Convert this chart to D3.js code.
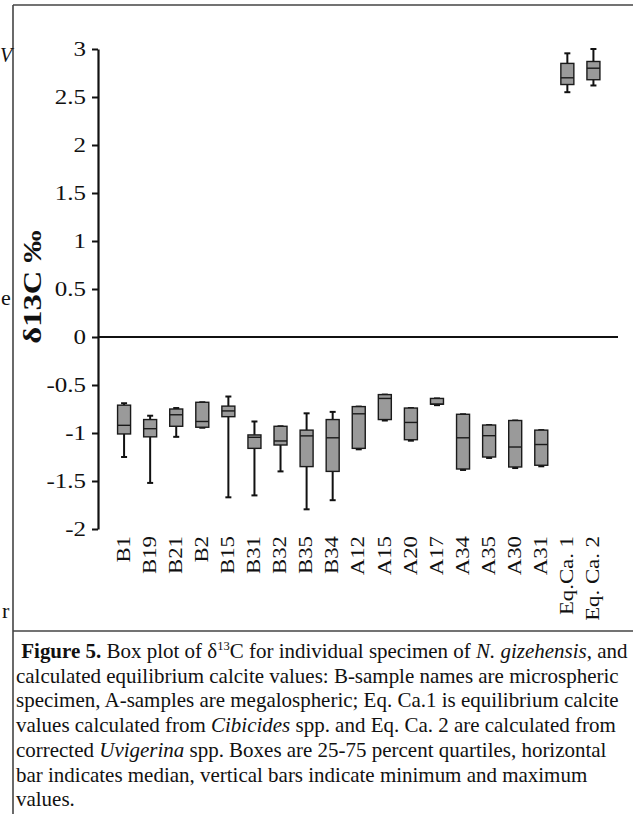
<!DOCTYPE html>
<html>
<head>
<meta charset="utf-8">
<script src="https://cdn.jsdelivr.net/npm/d3@7"></script>
<style>
  html, body { margin: 0; padding: 0; background: #fff; }
  svg { display: block; }
  svg text { font-family: "Liberation Serif", "Times New Roman", serif; fill: #111; }
</style>
</head>
<body>
<svg id="fig" width="633" height="814"></svg>
<script>
// δ13C per specimen: five-number summary per sample
const categories = ["B1", "B19", "B21", "B2", "B15", "B31", "B32", "B35", "B34",
  "A12", "A15", "A20", "A17", "A34", "A35", "A30", "A31", "Eq.Ca. 1", "Eq. Ca. 2"];
const minValues    = [-1.25, -1.52, -1.04, -0.945, -1.67, -1.65, -1.40, -1.795, -1.70,
  -1.17, -0.87, -1.08, -0.71, -1.385, -1.26, -1.365, -1.347, 2.55, 2.62];
const q1Values     = [-1.01, -1.04, -0.93, -0.94, -0.83, -1.16, -1.125, -1.35, -1.40,
  -1.16, -0.86, -1.07, -0.70, -1.375, -1.25, -1.354, -1.336, 2.63, 2.68];
const medianValues = [-0.92, -0.955, -0.81, -0.88, -0.77, -1.045, -1.083, -1.03, -1.05,
  -0.80, -0.64, -0.89, -0.70, -1.05, -1.028, -1.146, -1.12, 2.70, 2.80];
const q3Values     = [-0.71, -0.86, -0.75, -0.68, -0.72, -1.02, -0.93, -0.97, -0.86,
  -0.725, -0.60, -0.74, -0.64, -0.805, -0.917, -0.87, -0.97, 2.85, 2.87];
const maxValues    = [-0.69, -0.82, -0.74, -0.68, -0.62, -0.88, -0.93, -0.795, -0.78,
  -0.725, -0.60, -0.74, -0.64, -0.805, -0.917, -0.87, -0.97, 2.955, 3.0];

const yTickValues = [-2, -1.5, -1, -0.5, 0, 0.5, 1, 1.5, 2, 2.5, 3];
const yTickLabels = ["-2", "-1.5", "-1", "-0.5", "0", "0.5", "1", "1.5", "2", "2.5", "3"];
const yTitle = "δ13C ‰";

const rows = categories.map((c, i) => ({
  name: c, min: minValues[i], q1: q1Values[i], med: medianValues[i], q3: q3Values[i], max: maxValues[i]
}));

const SERIF = '"Liberation Serif", "Times New Roman", serif';
const svg = d3.select("#fig");

// page frame: top rule, left rule, caption separator
const frame = svg.append("g").attr("stroke", "#444").attr("stroke-width", 1.6);
frame.append("line").attr("x1", 13).attr("x2", 633).attr("y1", 5).attr("y2", 5);
frame.append("line").attr("x1", 13).attr("x2", 13).attr("y1", 5).attr("y2", 814);
frame.append("line").attr("x1", 13).attr("x2", 633).attr("y1", 631).attr("y2", 631);

// fragments of the neighbouring text column
svg.append("text").attr("x", 0).attr("y", 62).attr("font-size", 20).style("font-style", "italic").text("V");
svg.append("text").attr("x", 1).attr("y", 305).attr("font-size", 22).text("e");
svg.append("text").attr("x", 2).attr("y", 618).attr("font-size", 22).text("r");

const axisX = 98;
const y = d3.scaleLinear().domain([-2, 3]).range([529, 49]);
const x = d3.scalePoint().domain(categories).range([axisX, 619.5]).padding(1);

const plot = svg.append("g");

// y axis
const yAxis = d3.axisLeft(y)
  .tickValues(yTickValues)
  .tickFormat((d, i) => yTickLabels[i])
  .tickSize(6)
  .tickSizeOuter(0);
const gy = plot.append("g").attr("transform", `translate(${axisX},0)`).call(yAxis);
gy.attr("font-family", null).attr("font-size", null);
gy.select(".domain").attr("stroke", "#111").attr("stroke-width", 2.2);
gy.selectAll(".tick line").attr("stroke", "#111").attr("stroke-width", 2);
gy.selectAll(".tick text")
  .attr("x", 0).attr("dy", "0.34em")
  .attr("transform", "translate(-12,0) scale(1.25,1)")
  .style("font-family", SERIF)
  .style("font-size", "20px")
  .style("fill", "#111");

// zero line
plot.append("line")
  .attr("x1", axisX).attr("x2", 618)
  .attr("y1", y(0)).attr("y2", y(0))
  .attr("stroke", "#111").attr("stroke-width", 2);

// y title
svg.append("text")
  .attr("transform", `translate(32,287) rotate(-90) scale(1.25,1)`)
  .attr("text-anchor", "middle").attr("dy", "0.35em")
  .attr("font-size", 26).attr("font-weight", "bold")
  .text(yTitle);

// category labels
plot.append("g").selectAll("text").data(categories).join("text")
  .attr("transform", d => `translate(${x(d)},536) rotate(-90) scale(1.2,1)`)
  .attr("text-anchor", "end").attr("dy", "0.3em")
  .attr("font-size", 19)
  .text(d => d);

// boxes
const boxW = 13, capW = 6;
const box = plot.append("g").selectAll("g").data(rows).join("g")
  .attr("transform", d => `translate(${x(d.name)},0)`);

box.append("line").attr("class", "whisker-low")
  .attr("x1", 0).attr("x2", 0).attr("y1", d => y(d.q1)).attr("y2", d => y(d.min))
  .attr("stroke", "#111").attr("stroke-width", 2);
box.append("line").attr("class", "whisker-high")
  .attr("x1", 0).attr("x2", 0).attr("y1", d => y(d.q3)).attr("y2", d => y(d.max))
  .attr("stroke", "#111").attr("stroke-width", 2);
box.append("line").attr("class", "cap-low")
  .attr("x1", -capW / 2).attr("x2", capW / 2).attr("y1", d => y(d.min)).attr("y2", d => y(d.min))
  .attr("stroke", "#111").attr("stroke-width", 2);
box.append("line").attr("class", "cap-high")
  .attr("x1", -capW / 2).attr("x2", capW / 2).attr("y1", d => y(d.max)).attr("y2", d => y(d.max))
  .attr("stroke", "#111").attr("stroke-width", 2);
box.append("rect")
  .attr("x", -boxW / 2).attr("width", boxW)
  .attr("y", d => y(d.q3)).attr("height", d => y(d.q1) - y(d.q3))
  .attr("fill", "#9a9a9a").attr("stroke", "#1a1a1a").attr("stroke-width", 1.4);
box.append("line").attr("class", "median")
  .attr("x1", -boxW / 2).attr("x2", boxW / 2).attr("y1", d => y(d.med)).attr("y2", d => y(d.med))
  .attr("stroke", "#1a1a1a").attr("stroke-width", 1.4);

// caption
const capLines = [
  [{t: " "}, {t: "Figure 5.", b: 1}, {t: " Box plot of δ"}, {t: "13", sup: 1}, {t: "C for individual specimen of "}, {t: "N. gizehensis", i: 1}, {t: ", and"}],
  [{t: "calculated equilibrium calcite values: B-sample names are microspheric"}],
  [{t: "specimen, A-samples are megalospheric; Eq. Ca.1 is equilibrium calcite"}],
  [{t: "values calculated from "}, {t: "Cibicides", i: 1}, {t: " spp. and Eq. Ca. 2 are calculated from"}],
  [{t: "corrected "}, {t: "Uvigerina", i: 1}, {t: " spp. Boxes are 25-75 percent quartiles, horizontal"}],
  [{t: "bar indicates median, vertical bars indicate minimum and maximum"}],
  [{t: "values."}]
];
const cap = svg.append("g").attr("font-size", 20);
capLines.forEach((parts, li) => {
  const t = cap.append("text").attr("x", 16).attr("y", 658 + li * 24.7).attr("xml:space", "preserve");
  parts.forEach((p, k) => {
    const s = t.append("tspan").text(p.t);
    if (p.b) s.attr("font-weight", "bold");
    if (p.i) s.attr("font-style", "italic");
    if (p.sup) s.attr("font-size", "0.6em").attr("dy", -8);
    if (k > 0 && parts[k - 1].sup) s.attr("dy", 8);
  });
});
// fit the caption block to the column width, stretching glyphs slightly taller
const w0 = cap.select("text").node().getComputedTextLength();
const fs = 20 * 612 / w0;
cap.attr("font-size", fs);
</script>
</body>
</html>
